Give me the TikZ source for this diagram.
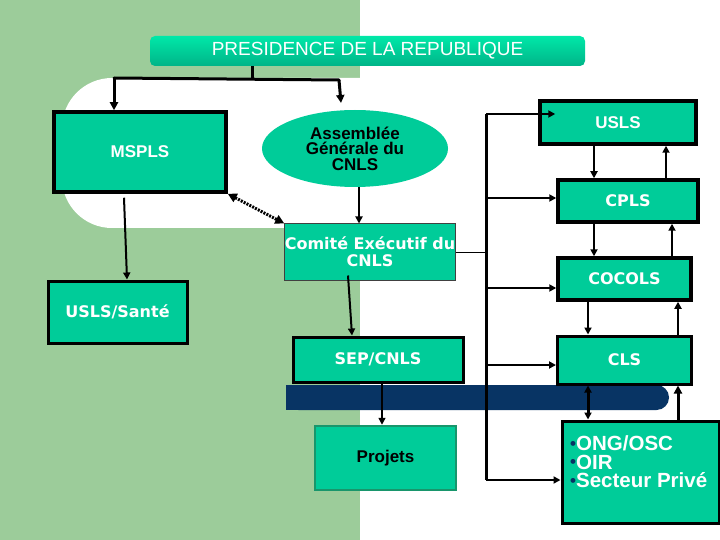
\documentclass[tikz,border=0pt]{standalone}
\usepackage{fontspec}
\setmainfont{Liberation Sans}
\newfontfamily\verd{DejaVu Sans}
\usetikzlibrary{shapes.geometric,arrows.meta,calc}
\definecolor{bggreen}{RGB}{156,204,154}
\definecolor{teal1}{RGB}{0,204,153}
\definecolor{navy1}{RGB}{8,52,100}
\definecolor{projborder}{RGB}{24,150,108}
\definecolor{prestop}{RGB}{0,232,168}
\definecolor{presbot}{RGB}{0,180,136}
\newcommand{\mybul}{\textcolor{navy1}{\raisebox{1.5pt}{\fontsize{17}{17}\selectfont•}}}
\begin{document}
\begin{tikzpicture}[x=1pt,y=-1pt,
  box/.style={draw=black, line width=3.5pt, fill=teal1, inner sep=0pt, text=white,
    font=\bfseries\fontsize{17}{17}\selectfont},
  vbox/.style={box, font=\verd\bfseries\fontsize{16}{16}\selectfont},
  arr/.style={line width=2pt, -{Triangle[length=7pt,width=7pt]}},
  thkarr/.style={line width=3pt, -{Triangle[length=8pt,width=8pt]}},
  plain/.style={line width=3pt},
  dotline/.style={line width=3pt, dash pattern=on 2pt off 1.2pt,
    {Triangle[length=9pt,width=9pt]}-{Triangle[length=9pt,width=9pt]}},
]
\useasboundingbox (0,0) rectangle (720,540);
% background
\fill[white] (0,0) rectangle (720,540);
\fill[bggreen] (0,0) rectangle (360,540);
\fill[white, rounded corners=50pt] (62,78) rectangle (430,228);
\fill[white] (360,0) rectangle (720,540);
% dark blue bar
\fill[navy1, rounded corners=12.5pt] (286,385) rectangle (669,410);
\fill[navy1] (286,385) rectangle (310,410);

% nodes
\node[inner sep=0pt, minimum width=435pt, minimum height=30pt, rounded corners=5pt,
  top color=prestop, bottom color=presbot, text=white,
  font=\fontsize{19}{19}\selectfont] (pres) at (367.5,51) {PRESIDENCE DE LA REPUBLIQUE};
\node[box, minimum width=172pt, minimum height=80pt] (msp) at (140,152) {MSPLS};
\node[ellipse, fill=teal1, inner sep=0pt, minimum width=186pt, minimum height=77pt,
  align=center, font=\bfseries\fontsize{17}{15.5}\selectfont] (ag) at (355,148.5)
  {Assemblée\\Générale du\\CNLS};
\node[vbox, draw=black!75, line width=1pt, minimum width=168pt, minimum height=56pt,
  align=center, font=\verd\bfseries\fontsize{16}{17}\selectfont] (com) at (370,252)
  {Comité Exécutif du\\CNLS};
\node[vbox, line width=3pt, minimum width=139pt, minimum height=62pt] (usante) at (117.5,312) {USLS/Santé};
\node[vbox, line width=3pt, minimum width=170pt, minimum height=45pt] (sep) at (378,359.5) {SEP/CNLS};
\node[box, draw=projborder, line width=2.5pt, text=black, minimum width=141pt,
  minimum height=64pt] (proj) at (385.5,458) {Projets};
\node[box, minimum width=156pt, minimum height=43pt] (usls) at (618,122.5) {USLS};
\node[vbox, minimum width=140pt, minimum height=42pt] (cpls) at (628,201) {CPLS};
\node[vbox, minimum width=133pt, minimum height=42pt] (cocols) at (624.5,279) {COCOLS};
\node[vbox, line width=3pt, minimum width=134pt, minimum height=48pt] (cls) at (624.5,360) {CLS};
\node[box, line width=3pt, minimum width=157pt, minimum height=102pt] (ong) at (640.5,472) {};
\node[anchor=west, inner sep=0pt, align=left, text=white,
  font=\bfseries\fontsize{20.5}{18.5}\selectfont] (ongtxt) at (570,462)
  {\mybul ONG/OSC\\ \mybul OIR\\ \mybul Secteur Privé};

% top connectors
\coordinate (j0) at (252,79);
\coordinate (jl) at (114,78);
\coordinate (jr) at (339,80);
\coordinate (jre) at (341,103);
\draw[plain] (pres.south -| j0) -- (j0);
\draw[plain, line cap=round] (jl) -- (jr);
\draw[thkarr] (jl) -- (jl |- msp.north);
\draw[thkarr] (jr) -- (jre);
\draw[arr] ($(ag.south)+(4,0)$) -- ($(com.north)+(-11,0)$);
\draw[dotline] (msp.south east) -- (com.north west);
\draw[arr] ($(msp.south)+(-16,4)$) -- ($(usante.north)+(9.5,0)$);
\draw[arr] ($(com.south)+(-22,-5)$) -- ($(sep.north)+(-26,0)$);
\draw[line width=1.5pt, -{Triangle[length=7pt,width=7pt]}] ($(sep.south)+(4,0)$) -- ($(proj.north)+(-3.5,0)$);

% bus
\coordinate (bt) at (486,114);
\coordinate (bb) at (486,480);
\draw[line width=1pt] (com.east) -- (com.east -| bt);
\draw[plain] (bt) -- (bb);
\draw[arr] (bt) -- ($(bt -| usls.west)+(17,0)$);
\draw[arr] ($(cpls.west -| bt)+(0,-3)$) -- ($(cpls.west)+(0,-3)$);
\draw[arr] ($(cocols.west -| bt)+(0,9)$) -- ($(cocols.west)+(0,9)$);
\draw[arr] ($(cls.west -| bt)+(0,5)$) -- ($(cls.west)+(0,5)$);
\draw[arr] (bb) -- (bb -| ong.west);

% right column
\coordinate (x1) at (594,0);
\coordinate (x2) at (666,0);
\coordinate (x3) at (672,0);
\coordinate (x4) at (588,0);
\coordinate (x5) at (678,0);
\draw[arr] (usls.south -| x1) -- (cpls.north -| x1);
\draw[arr] (cpls.north -| x2) -- (usls.south -| x2);
\draw[arr] (cpls.south -| x1) -- (cocols.north -| x1);
\draw[arr] (cocols.north -| x3) -- (cpls.south -| x3);
\draw[arr] (cocols.south -| x4) -- (cls.north -| x4);
\draw[arr] (cls.north -| x5) -- (cocols.south -| x5);
\draw[line width=3pt, {Triangle[length=7pt,width=7pt]}-{Triangle[length=7pt,width=7pt]}] (cls.south -| x4) -- (ong.north -| x4);
\draw[thkarr] (ong.north -| x5) -- (cls.south -| x5);
\end{tikzpicture}
\end{document}
